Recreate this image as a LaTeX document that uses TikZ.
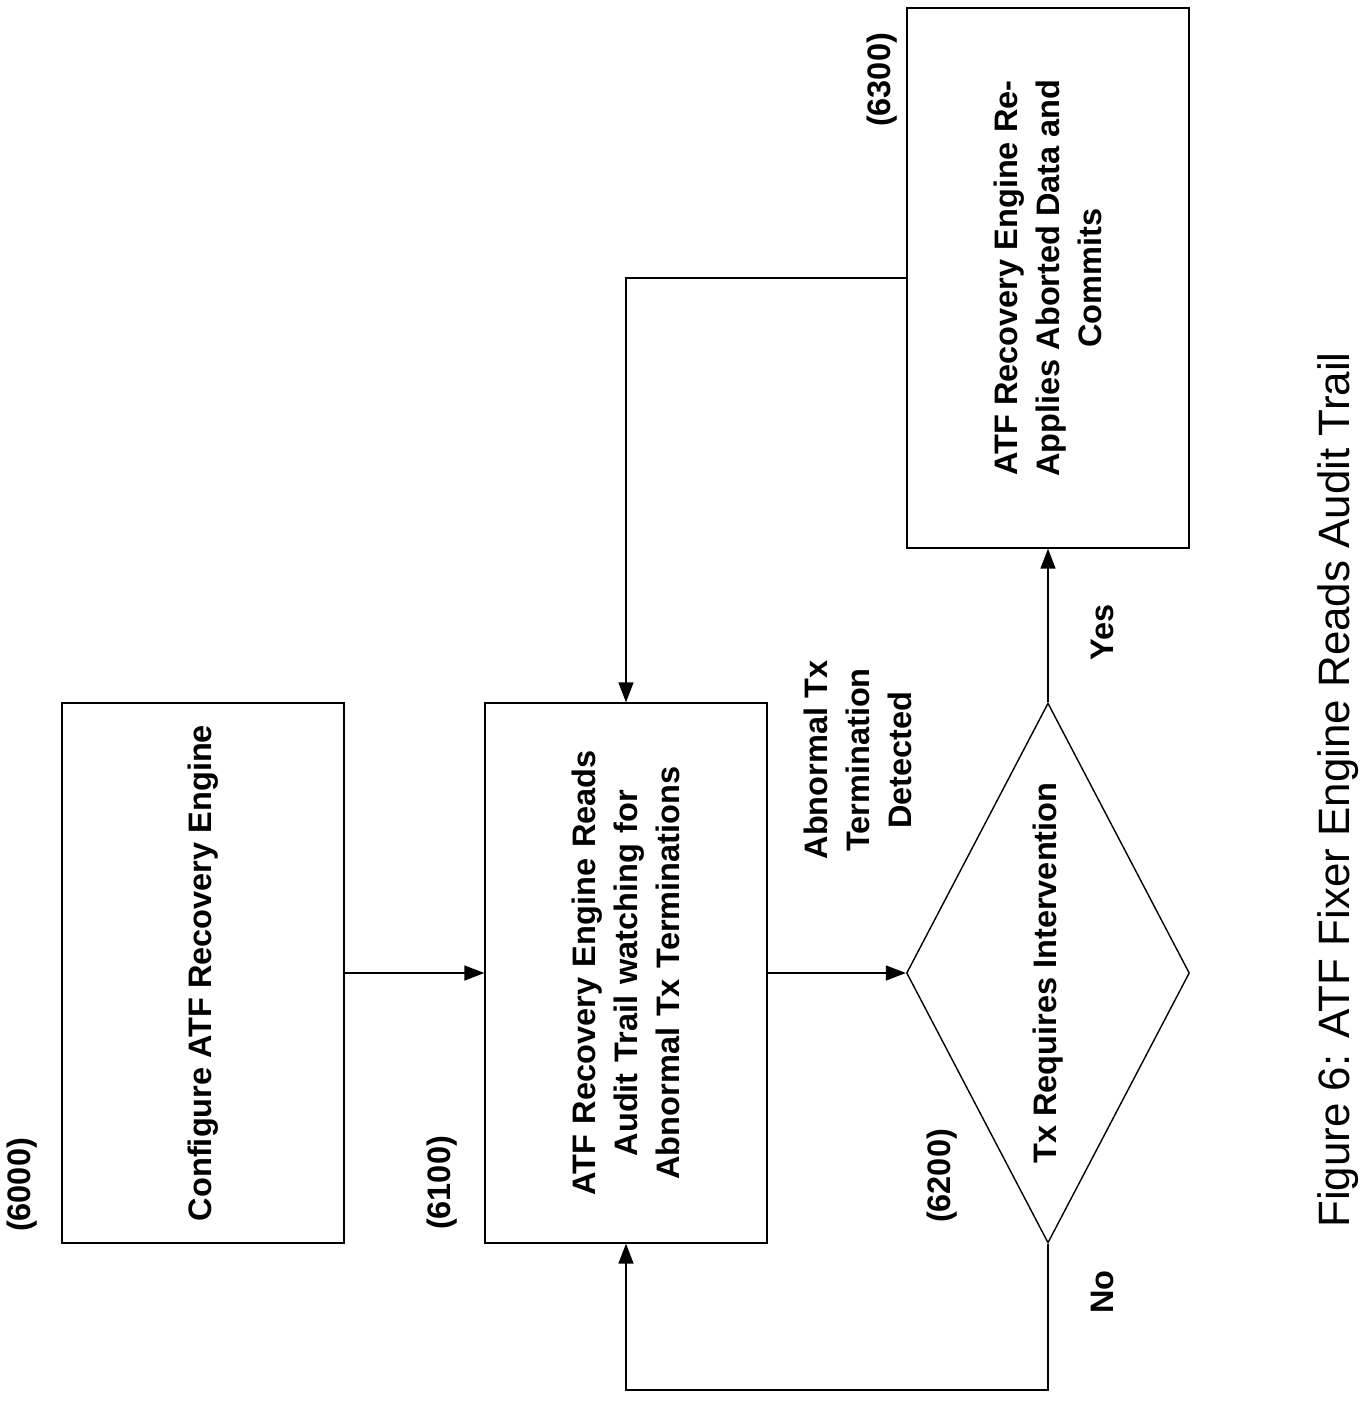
\documentclass[tikz,border=0pt]{standalone}
\usepackage{fontspec}
\setmainfont{Liberation Sans}
\usetikzlibrary{shapes.geometric,arrows.meta}
\tikzset{
  box/.style={draw,line width=0.8pt,minimum width=5.64cm,minimum height=10.8cm,inner sep=0pt},
  decide/.style={draw,diamond,line width=0.8pt,minimum width=5.66cm,minimum height=10.8cm,inner sep=0pt,shape aspect=0.524},
  txt/.style={rotate=90,font=\bfseries\fontsize{18.5}{24}\selectfont,align=center},
  flow/.style={line width=0.8pt,-{Triangle[length=4mm,width=3mm]}}
}
\begin{document}
\begin{tikzpicture}[x=0.02cm,y=-0.02cm]
	\useasboundingbox (0,0) rectangle (1371,1401);
	% boxes
	\node[box] (cfg) at (203,973) {};
	\node[box] (read) at (626,973) {};
	\node[decide] (req) at (1048,973) {};
	\node[box] (fix) at (1048,278) {};
	\node[txt] at (cfg) {Configure ATF Recovery Engine};
	\node[txt,text width=10.4cm] at (read) {ATF Recovery Engine Reads\\Audit Trail watching for\\Abnormal Tx Terminations};
	\node[txt] at (req) {Tx Requires Intervention};
	\node[txt] at (fix) {ATF Recovery Engine Re-\\Applies Aborted Data and\\Commits};
	% numbers
	\node[txt] at (22,1185) {(6000)};
	\node[txt] at (442,1183) {(6100)};
	\node[txt] at (942,1176) {(6200)};
	\node[txt] at (882,80) {(6300)};
	\node[txt] at (858,760) {Abnormal Tx\\Termination\\Detected};
	\node[txt] at (1102,632) {Yes};
	\node[txt] at (1102,1292) {No};
	% connectors
	\coordinate (c1) at (626,278);
	\coordinate (c2) at (1048,1390);
	\coordinate (c3) at (626,1390);
	\draw[flow] (cfg.east) -- (read.west);
	\draw[flow] (read.east) -- (req.west);
	\draw[flow] (req.north) -- (fix.south);
	\draw[flow] (fix.west) -- (c1) -- (read.north);
	\draw[flow] (req.south) -- (c2) -- (c3) -- (read.south);
	% caption
	\node[rotate=90,font=\fontsize{25}{30}\selectfont] at (1338,790) {Figure 6: ATF Fixer Engine Reads Audit Trail};
\end{tikzpicture}
\end{document}
